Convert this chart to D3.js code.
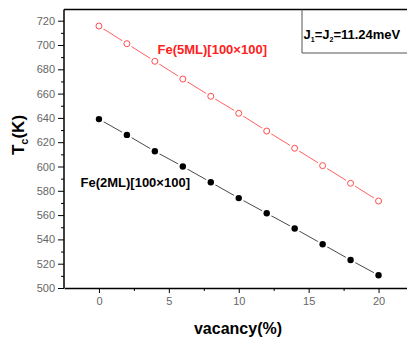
<!DOCTYPE html>
<html><head><meta charset="utf-8">
<script src="https://cdn.jsdelivr.net/npm/d3@7"></script>
<style>body{margin:0;background:#fff}svg{display:block}</style>
</head><body>
<svg id="c" width="407" height="337"></svg>
<script>
const vacancy = [0, 2, 4, 6, 8, 10, 12, 14, 16, 18, 20];
const fe5ML = [715.6, 701.1, 686.6, 672.0, 657.8, 643.8, 629.2, 615.0, 600.7, 586.2, 571.6];
const fe2ML = [639.0, 626.0, 612.5, 600.0, 587.0, 574.0, 561.5, 549.0, 536.0, 523.0, 510.5];
const xTicks = [0, 5, 10, 15, 20];
const yTicks = [500, 520, 540, 560, 580, 600, 620, 640, 660, 680, 700, 720];
const label5 = "Fe(5ML)[100×100]";
const label2 = "Fe(2ML)[100×100]";

const svg = d3.select("#c");
const L = 64, R = 413.5, T = 9.5, B = 288;
const x = d3.scaleLinear().domain([-2.5, 22.5]).range([L, R]);
const y = d3.scaleLinear().domain([500, 720]).range([B, 20.7]);

// frame top
svg.append("line").attr("x1", L).attr("x2", 407).attr("y1", T).attr("y2", T)
  .attr("stroke", "#000").attr("stroke-width", 1.4);

// x axis
const xa = svg.append("g").attr("transform", `translate(0,${B})`)
  .call(d3.axisBottom(x).tickValues(xTicks).tickSize(5).tickPadding(4).tickSizeOuter(0));
xa.select(".domain").attr("stroke-width", 1.5);
xa.selectAll("text").attr("font-family", "Liberation Sans, Arial, sans-serif").attr("font-size", 11).attr("fill", "#666");
svg.append("g").attr("transform", `translate(0,${B})`)
  .call(d3.axisBottom(x).tickValues(d3.range(-2.5, 23, 2.5).filter(v => v % 5 !== 0 && v > -2.5)).tickSize(3).tickFormat(""))
  .select(".domain").remove();

// y axis
const ya = svg.append("g").attr("transform", `translate(${L},0)`)
  .call(d3.axisLeft(y).tickValues(yTicks).tickSize(6).tickPadding(3).tickSizeOuter(0));
ya.select(".domain").attr("stroke-width", 1.5).attr("d", `M0,${T}V${B}`);
ya.selectAll("text").attr("font-family", "Liberation Sans, Arial, sans-serif").attr("font-size", 11).attr("fill", "#666");
svg.append("g").attr("transform", `translate(${L},0)`)
  .call(d3.axisLeft(y).tickValues(d3.range(510, 720, 20)).tickSize(3).tickFormat(""))
  .select(".domain").remove();

// series
function series(vals, color, filled) {
  const pts = vacancy.map((v, i) => [x(v), y(vals[i])]);
  svg.append("path").attr("d", d3.line()(pts)).attr("fill", "none")
    .attr("stroke", color).attr("stroke-width", 0.9);
  const g = svg.append("g");
  g.selectAll(".h").data(pts).join("circle").attr("cx", d => d[0]).attr("cy", d => d[1])
    .attr("r", 5.5).attr("fill", "#fff");
  g.selectAll(".m").data(pts).join("circle").attr("cx", d => d[0]).attr("cy", d => d[1])
    .attr("r", filled ? 3.2 : 3).attr("fill", filled ? "#000" : "#fff")
    .attr("stroke", filled ? "#000" : color).attr("stroke-width", filled ? 0 : 1);
}
series(fe5ML, "#ff4d4d", false);
series(fe2ML, "#333", true);

const font = "Liberation Sans, Arial, sans-serif";
svg.append("text").attr("x", 157.5).attr("y", 54).attr("font-family", font).attr("font-weight", "bold")
  .attr("font-size", 13).attr("fill", "#ff2020").text(label5);
svg.append("text").attr("x", 80.5).attr("y", 187).attr("font-family", font).attr("font-weight", "bold")
  .attr("font-size", 13).attr("fill", "#000").text(label2);

// legend box
svg.append("path").attr("d", `M302,${T}V53H407`).attr("fill", "none").attr("stroke", "#555").attr("stroke-width", 1);
const jt = svg.append("text").attr("x", 303.5).attr("y", 39).attr("font-family", font).attr("font-weight", "bold")
  .attr("font-size", 13).attr("fill", "#000");
jt.append("tspan").text("J");
jt.append("tspan").attr("font-size", 7).attr("dy", 3).text("1");
jt.append("tspan").attr("dy", -3).text("=J");
jt.append("tspan").attr("font-size", 7).attr("dy", 3).text("2");
jt.append("tspan").attr("dy", -3).text("=11.24meV");

// axis titles
const yt = svg.append("text").attr("transform", "translate(23.5,135) rotate(-90)").attr("text-anchor", "middle")
  .attr("font-family", font).attr("font-weight", "bold").attr("font-size", 17).attr("fill", "#000");
yt.append("tspan").text("T");
yt.append("tspan").attr("font-size", 11).attr("dy", 4).text("c");
yt.append("tspan").attr("dy", -4).text("(K)");
svg.append("text").attr("x", 238).attr("y", 334).attr("text-anchor", "middle").attr("font-family", font)
  .attr("font-weight", "bold").attr("font-size", 16).attr("fill", "#000").text("vacancy(%)");
</script>
</body></html>
